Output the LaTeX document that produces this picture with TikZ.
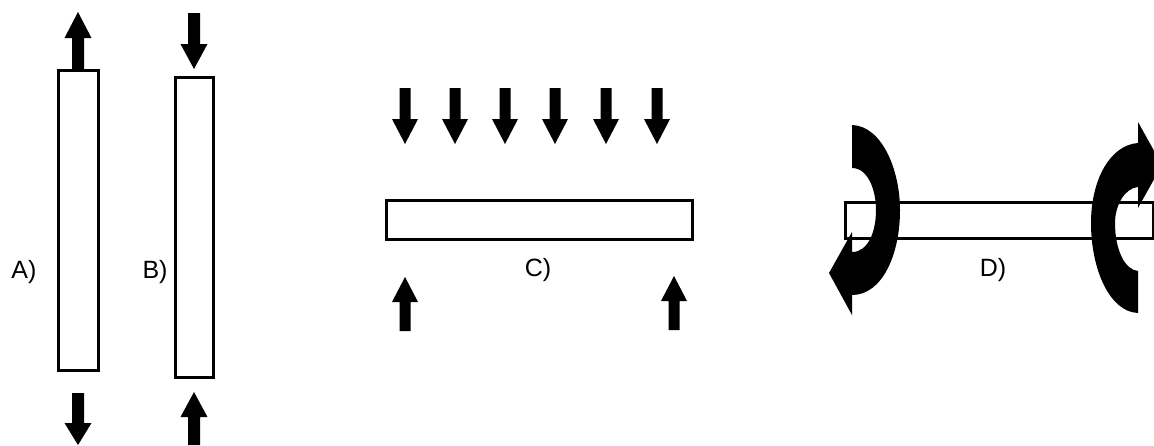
\documentclass[tikz,border=0pt]{standalone}
\usepackage{fontspec}
\setmainfont{Liberation Sans}
% block arrow: centre x, tip y, head base y, tail y, half head width, half shaft width
\newcommand{\blockarrow}[6]{%
  \fill[solidblack] (#1,#2) -- (#1+#5,#3) -- (#1+#6,#3) -- (#1+#6,#4)
    -- (#1-#6,#4) -- (#1-#6,#3) -- (#1-#5,#3) -- cycle;}
\tikzset{
  solidblack/.style={fill=black,draw=none},
  barbox/.style={draw=black,line width=3pt,line join=miter},
  caption/.style={font=\fontsize{25}{29}\selectfont,text=black,inner sep=0pt,anchor=center}
}
\begin{document}
\begin{tikzpicture}[x=1pt,y=-1pt]
\useasboundingbox (0,0) rectangle (1154,445);
\clip (0,0) rectangle (1154,445);
\fill[white] (0,0) rectangle (1154,445);

% A
\draw[barbox] (58,70) rectangle (98,370);
\blockarrow{78}{12}{38}{69}{13.5}{6}
\blockarrow{78}{445}{423}{393}{13.5}{6}
\node[caption] (labA) at (24,272) {A)};

% B
\draw[barbox] (175,77) rectangle (213,377);
\blockarrow{194}{69}{44}{13}{13.5}{6}
\blockarrow{194}{392}{417}{445}{13.5}{6}
\node[caption] (labB) at (155,272) {B)};

% C
\draw[barbox] (386,200) rectangle (692,239);
\foreach \px in {405,455,505,555,606,657}
  {\blockarrow{\px}{144}{119}{88}{13}{5.5}}
\blockarrow{405}{277}{302}{331}{13}{5.5}
\blockarrow{674}{276}{301}{330}{13}{5.5}
\node[caption] (labC) at (538,270) {C)};

% D
\draw[barbox] (845,202) rectangle (1153,238);
\node[caption] (labD) at (993,270) {D)};
% left moment
\fill[solidblack] (852,125)
  .. controls (882,126) and (900,170) .. (900,210)
  .. controls (900,255) and (882,295) .. (852,295)
  -- (852,315) -- (829,273) -- (852,232) -- (852,252)
  .. controls (868,252) and (876,232) .. (876,210)
  .. controls (876,190) and (868,168) .. (852,168) -- cycle;
% right moment
\fill[solidblack] (1138,313)
  .. controls (1110,312) and (1091,270) .. (1091,223)
  .. controls (1091,180) and (1110,145) .. (1138,143)
  -- (1138,122) -- (1162,165) -- (1138,208) -- (1138,187)
  .. controls (1125,188) and (1115,205) .. (1115,223)
  .. controls (1115,250) and (1125,270) .. (1138,271) -- cycle;
\end{tikzpicture}
\end{document}
